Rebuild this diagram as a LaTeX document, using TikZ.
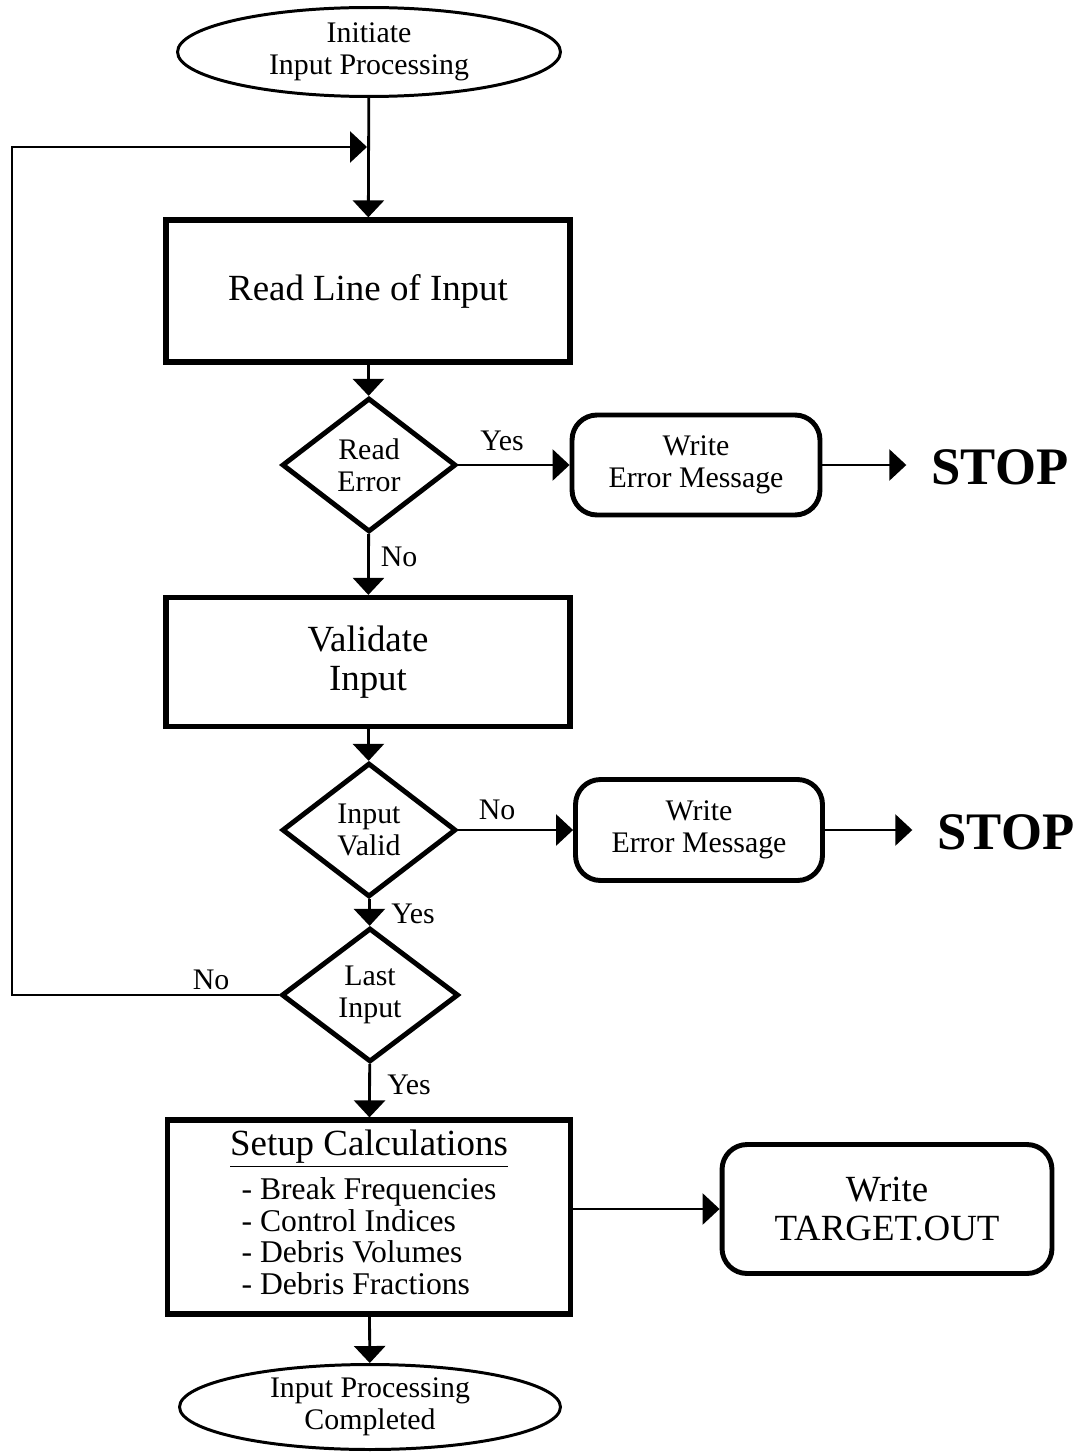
\documentclass[tikz,border=0pt]{standalone}
\usepackage{fontspec}
\setmainfont{Liberation Serif}
\usetikzlibrary{positioning,shapes.geometric,arrows.meta}
\newcommand{\smalltxt}{\fontsize{17pt}{18pt}\selectfont}
\newcommand{\bigtxt}{\fontsize{21pt}{22pt}\selectfont}
\tikzset{term/.style={ellipse,draw,line width=1.7pt,inner sep=0pt,align=center,font=\smalltxt},
	 proc/.style={rectangle,draw,line width=3pt,minimum width=8.08cm,align=center,font=\bigtxt},
	 dec/.style={diamond,draw,line width=2.8pt,minimum width=3.48cm,minimum height=2.68cm,inner sep=0pt,align=center,font=\smalltxt},
	 wrbox/.style={rectangle,draw,rounded corners=0.5cm,line width=2.8pt,align=center},
	 stopnode/.style={font=\bfseries\fontsize{30pt}{30pt}\selectfont,inner xsep=0.5cm},
	 ans/.style={font=\smalltxt,inner sep=1pt},
	 flow/.style={line width=1.6pt,-{Triangle[length=0.34cm,width=0.62cm]}},
	 node distance = 1
	 }
\begin{document}
\begin{tikzpicture}[x=0.02cm,y=-0.02cm] % input processing flow
	\useasboundingbox (0,0) rectangle (1083,1453);
	\node[term,minimum width=7.66cm,minimum height=1.78cm] (init) at (369,52) {Initiate\\Input Processing};
	\node[proc,minimum height=2.84cm] (rdline) at (368,291) {Read Line of Input};
	\node[dec] (rderr) at (369,465) {Read\\Error};
	\node[wrbox,minimum width=4.96cm,minimum height=2cm,font=\smalltxt] (msg1) at (696,465) {Write\\Error Message};
	\node[stopnode] (stop1) at (1000,467) {STOP};
	\node[proc,minimum height=2.58cm] (valid) at (368,662) {Validate\\Input};
	\node[dec] (inval) at (369,830) {Input\\Valid};
	\node[wrbox,minimum width=4.94cm,minimum height=2.02cm,font=\smalltxt] (msg2) at (699,830) {Write\\Error Message};
	\node[stopnode] (stop2) at (1006,832) {STOP};
	\node[dec,minimum width=3.54cm] (last) at (370,995) {Last\\Input};
	\node[proc,minimum width=8.06cm,minimum height=3.88cm] (setup) at (369,1217)
	  {\underline{Setup Calculations}\\[5pt]
	   {\fontsize{18pt}{18pt}\selectfont
	   \begin{tabular}{@{}l@{}}- Break Frequencies\\- Control Indices\\- Debris Volumes\\- Debris Fractions\end{tabular}}};
	\node[wrbox,minimum width=6.6cm,minimum height=2.58cm,font=\bigtxt] (tgt) at (887,1209) {Write\\TARGET.OUT};
	\node[term,minimum width=7.62cm,minimum height=1.7cm] (done) at (370,1407) {Input Processing\\Completed};
	% answers
	\node[ans] (y1) at (502,441) {Yes};
	\node[ans] (n1) at (399,557) {No};
	\node[ans] (n2) at (497,810) {No};
	\node[ans] (y2) at (413,914) {Yes};
	\node[ans] (n3) at (211,980) {No};
	\node[ans] (y3) at (409,1085) {Yes};
	% loop back
	\coordinate (lc) at (12,147);
	\coordinate (lj) at (367,147);
	\draw[flow] (init) to (rdline);
	\draw[flow] (last.west) -| (lc) to (lj);
	\draw[flow] (rdline) to (rderr);
	\draw[flow] (rderr) to (msg1);
	\draw[flow] (msg1) to (stop1.west |- msg1.east);
	\draw[flow] (rderr) to (valid);
	\draw[flow] (valid) to (inval);
	\draw[flow] (inval) to (msg2);
	\draw[flow] (msg2) to (stop2.west |- msg2.east);
	\draw[flow] (inval) to (last);
	\draw[flow] (last) to (setup);
	\draw[flow] (setup.east |- tgt.west) to (tgt.west);
	\draw[flow] (setup) to (done);
     \end{tikzpicture}
\end{document}
